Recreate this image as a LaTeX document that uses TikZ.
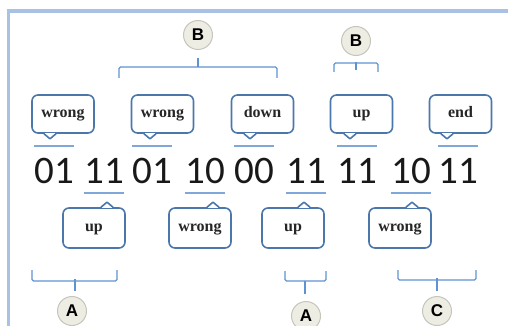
\documentclass[tikz,border=0pt]{standalone}
\usepackage{fontspec}
\setmainfont{Liberation Serif}
\newfontfamily\digitfont{Carlito}
\newfontfamily\tagfont{Liberation Sans}
\definecolor{framecol}{HTML}{A9C1E5}
\definecolor{boxcol}{HTML}{4B77AA}
\definecolor{bracecol}{HTML}{5F92D0}
\definecolor{markcol}{HTML}{7FA7DA}
\definecolor{tagfill}{HTML}{EEEDE4}
\definecolor{tagedge}{HTML}{C5C5BC}
\tikzset{
  callout/.style={draw=boxcol, line width=1.6pt, rounded corners=6pt, fill=white,
    minimum width=62pt, minimum height=38pt, inner sep=0pt,
    text height=7.5pt, text depth=0pt,
    font=\fontsize{16}{16}\selectfont\bfseries, text=black!85},
  bits/.style={inner sep=0pt, text height=26pt, text depth=0pt,
    font=\digitfont\fontsize{39}{39}\selectfont, text=black!90},
  markline/.style={draw=markcol, line width=1.5pt},
  brace/.style={draw=bracecol, line width=1.1pt, rounded corners=1.5pt},
  tag/.style={circle, draw=tagedge, line width=1pt, fill=tagfill, minimum size=29pt,
    inner sep=0pt, font=\tagfont\fontsize{17}{17}\selectfont\bfseries},
  notchline/.style={draw=boxcol, line width=1.6pt, line join=round},
}
\begin{document}
\begin{tikzpicture}[x=1pt, y=-1pt]
\useasboundingbox (0,0) rectangle (508,326);
% frame, open to the right and bottom
\begin{scope}
\clip (0,0) rectangle (508,326);
\draw[framecol, line width=3.5pt] (8.5,330) -- (8.5,11) -- (512,11);
\end{scope}

% bit pairs
\foreach \n/\x/\t in {1/54/01, 2/104/11, 3/152/01, 4/205/10, 5/254/00,
                      6/306/11, 7/357/11, 8/411/10, 9/458/11}
  \node[bits] (d\n) at (\x,170) {\t};

% marks above and below the pairs
\foreach \n in {1,3,5,7,9}
  \draw[markline] ([yshift=11pt]d\n.north west) -- ([yshift=11pt]d\n.north east);
\foreach \n in {2,4,6,8}
  \draw[markline] ([yshift=-10pt]d\n.south west) -- ([yshift=-10pt]d\n.south east);

% callouts above the row, pointer at the bottom
\foreach \n/\x/\p/\t in {1/63/50/wrong, 3/162.5/150/wrong, 5/262.5/250/down,
                         7/361.5/350/up, 9/460.5/447/end} {
  \node[callout] (c\n) at (\x,114) {\t};
  \fill[white] ([xshift=\p pt-\x pt-5pt,yshift=1.2pt]c\n.south) rectangle ([xshift=\p pt-\x pt+5pt,yshift=-1.2pt]c\n.south);
  \fill[white] ([xshift=\p pt-\x pt-5.5pt]c\n.south) -- ([xshift=\p pt-\x pt,yshift=-5pt]c\n.south)
        -- ([xshift=\p pt-\x pt+5.5pt]c\n.south) -- cycle;
  \draw[notchline] ([xshift=\p pt-\x pt-6pt]c\n.south) -- ([xshift=\p pt-\x pt,yshift=-5pt]c\n.south)
        -- ([xshift=\p pt-\x pt+6pt]c\n.south);
}

% callouts below the row, pointer at the top
\foreach \n/\x/\p/\t in {2/94/107/up, 4/200/213/wrong, 6/293/304/up, 8/400/412/wrong} {
  \node[callout, minimum height=40pt] (c\n) at (\x,228) {\t};
  \fill[white] ([xshift=\p pt-\x pt-5pt,yshift=1.2pt]c\n.north) rectangle ([xshift=\p pt-\x pt+5pt,yshift=-1.2pt]c\n.north);
  \fill[white] ([xshift=\p pt-\x pt-5.5pt]c\n.north) -- ([xshift=\p pt-\x pt,yshift=5pt]c\n.north)
        -- ([xshift=\p pt-\x pt+5.5pt]c\n.north) -- cycle;
  \draw[notchline] ([xshift=\p pt-\x pt-6pt]c\n.north) -- ([xshift=\p pt-\x pt,yshift=5pt]c\n.north)
        -- ([xshift=\p pt-\x pt+6pt]c\n.north);
}

% group tags
\node[tag] (tB1) at (198,35) {B};
\node[tag] (tB2) at (356,41) {B};
\node[tag] (tA1) at (72,311) {A};
\node[tag] (tA2) at (306,316) {A};
\node[tag] (tC)  at (437,311) {C};

% brackets above
\draw[brace] (119,78) -- (119,67) -- (277,67) -- (277,78);
\draw[brace] ([yshift=-8pt]tB1.south) -- ([yshift=-8pt-9pt]tB1.south);
\draw[brace] (334,72) -- (334,63) -- (378,63) -- (378,72);
\draw[brace] ([yshift=-6pt]tB2.south) -- ([yshift=-6pt-8pt]tB2.south);

% brackets below
\draw[brace] (32,270) -- (32,281) -- (117,281) -- (117,270);
\draw[brace] ([xshift=3pt,yshift=5pt]tA1.north) -- ([xshift=3pt,yshift=5pt+12pt]tA1.north);
\draw[brace] (285,271) -- (285,281) -- (326,281) -- (326,271);
\draw[brace] ([xshift=-1pt,yshift=7pt]tA2.north) -- ([xshift=-1pt,yshift=7pt+13pt]tA2.north);
\draw[brace] (398,270) -- (398,280) -- (476,280) -- (476,270);
\draw[brace] ([yshift=5pt]tC.north) -- ([yshift=5pt+13pt]tC.north);
\end{tikzpicture}
\end{document}
